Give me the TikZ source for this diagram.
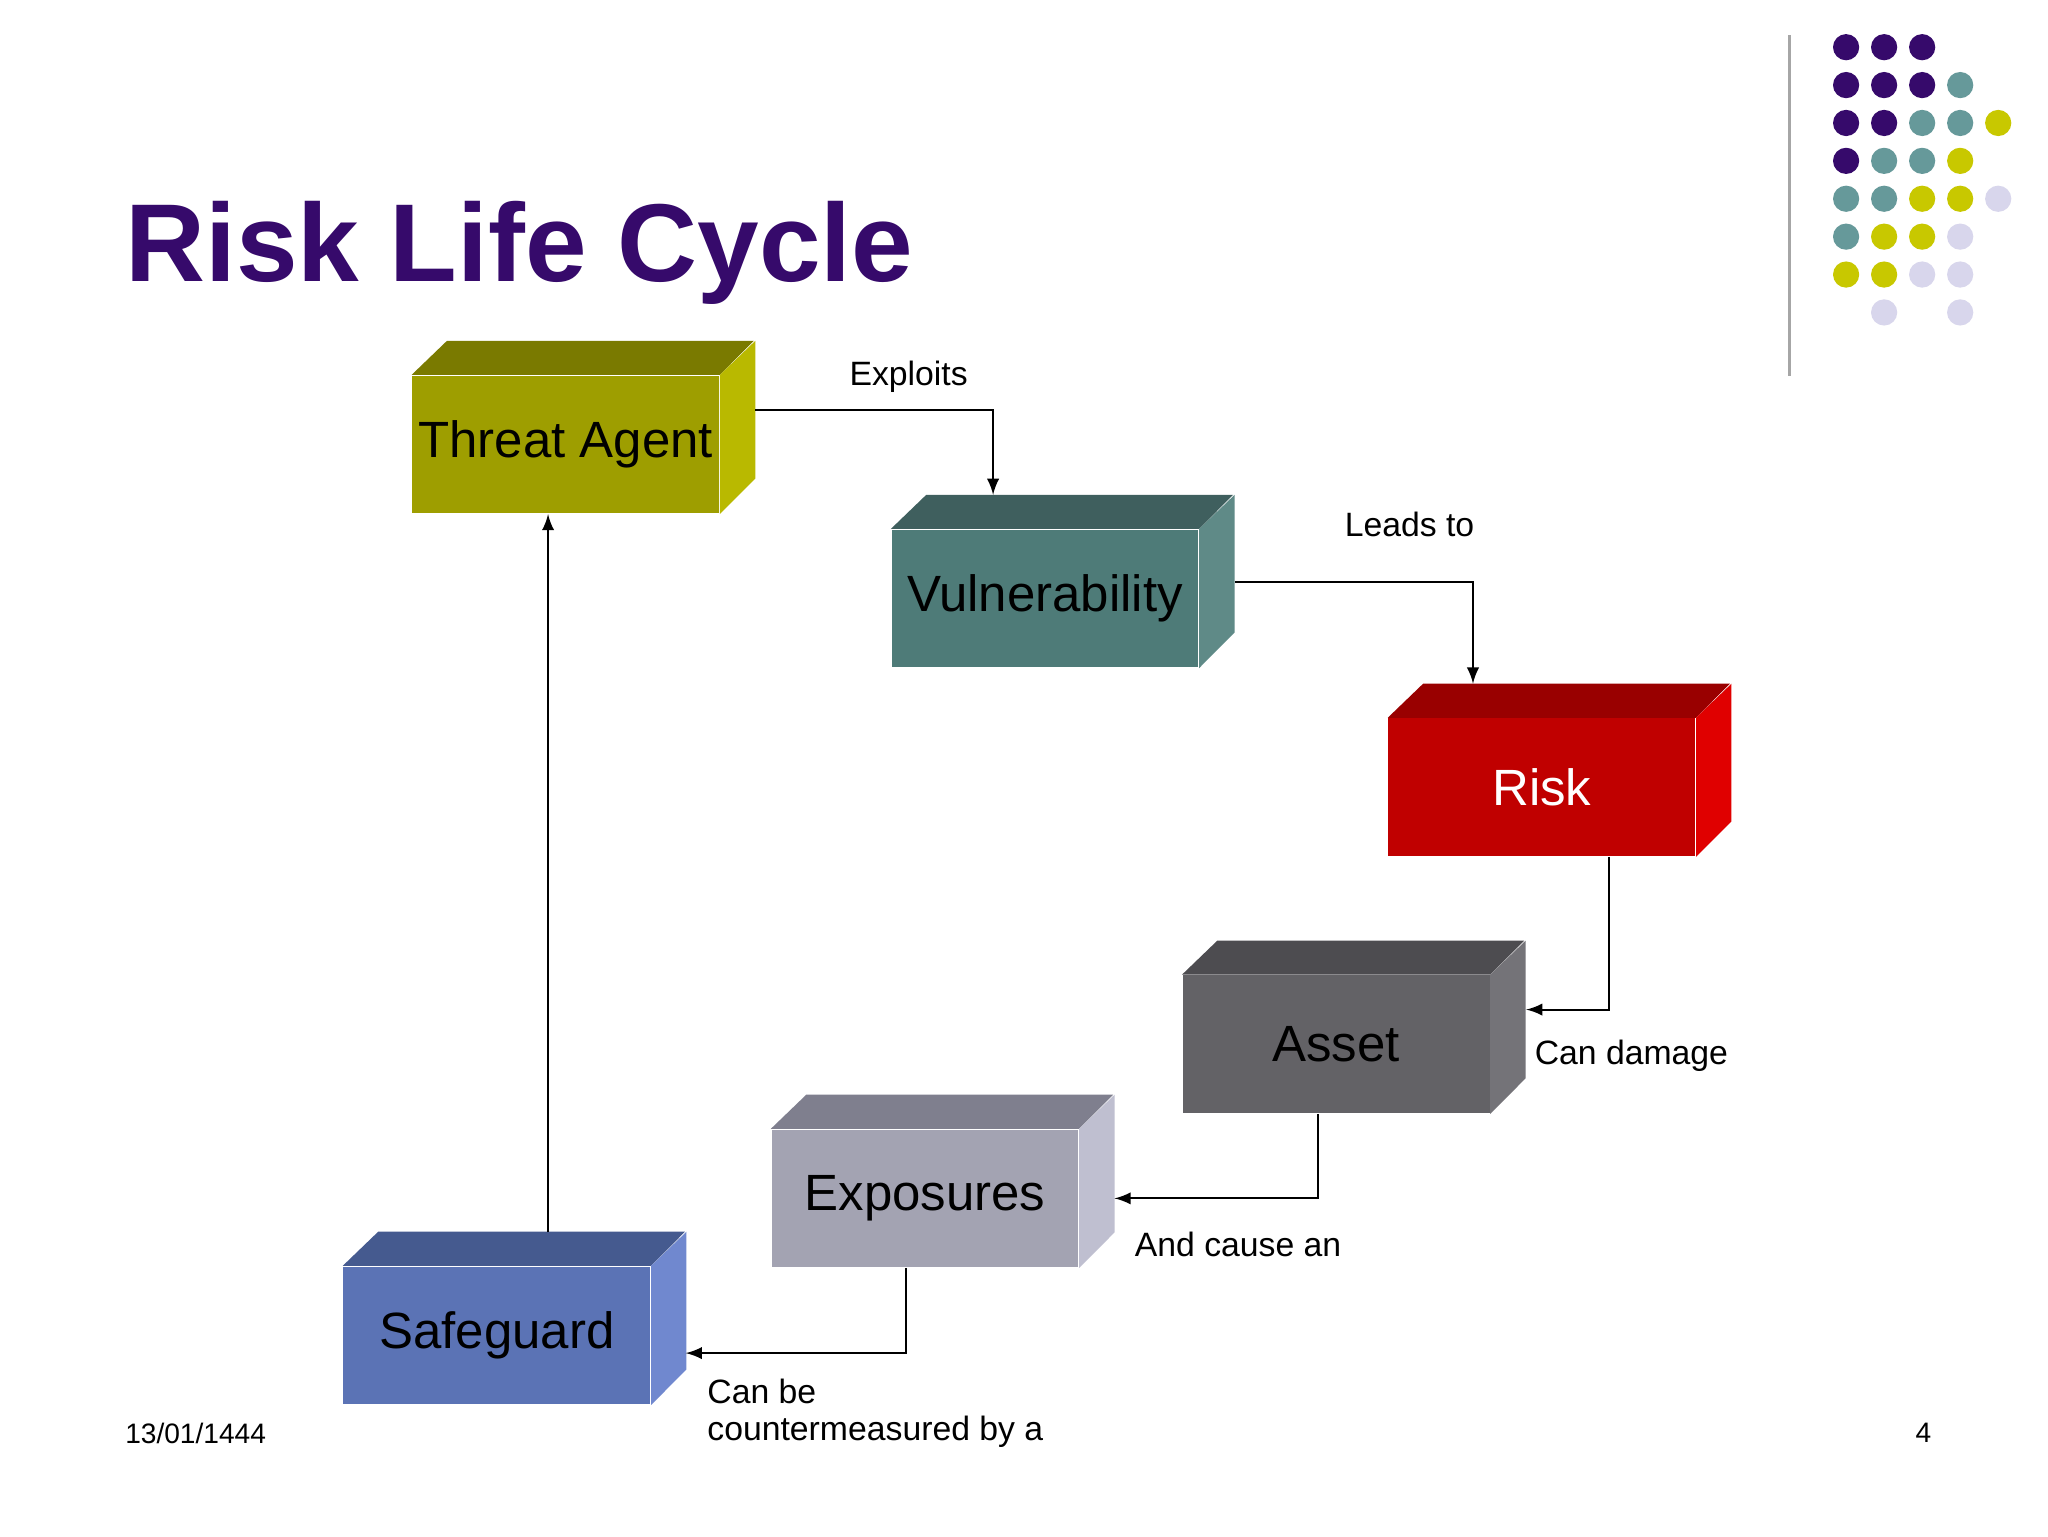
\documentclass[tikz,border=0pt]{standalone}
\usepackage{fontspec}
\setmainfont{Liberation Sans}
\usetikzlibrary{calc}
\definecolor{titlecol}{HTML}{360A6B}
\definecolor{dotP}{HTML}{360A6B}
\definecolor{dotT}{HTML}{66999A}
\definecolor{dotY}{HTML}{C8C800}
\definecolor{dotL}{HTML}{D8D6EC}
\definecolor{taF}{HTML}{9E9E00}\definecolor{taT}{HTML}{7A7A00}\definecolor{taS}{HTML}{B9B900}
\definecolor{vuF}{HTML}{4E7B78}\definecolor{vuT}{HTML}{3F5F5E}\definecolor{vuS}{HTML}{5F8A87}
\definecolor{riF}{HTML}{C00000}\definecolor{riT}{HTML}{990000}\definecolor{riS}{HTML}{E00000}
\definecolor{asF}{HTML}{636266}\definecolor{asT}{HTML}{4D4C50}\definecolor{asS}{HTML}{747378}
\definecolor{exF}{HTML}{A3A3B2}\definecolor{exT}{HTML}{7F7F8E}\definecolor{exS}{HTML}{BFBFD0}
\definecolor{sgF}{HTML}{5B73B5}\definecolor{sgT}{HTML}{455A8F}\definecolor{sgS}{HTML}{7088CF}
\tikzset{
  front/.style={draw=none, minimum width=3.068cm, minimum height=1.377cm,
    inner sep=0pt, font=\fontsize{14.5}{16}\selectfont},
  label/.style={font=\fontsize{9.6}{11.5}\selectfont, inner sep=0pt},
  link/.style={-latex, semithick},
}
% #1 name, #2 position, #3 text, #4 text colour
\newcommand{\cube}[4]{%
  \node [front, fill=#1F, text=#4] (#1) at #2 {#3};
  \fill [#1T] (#1.north west) -- ++(27,-26) -- ++(234,0) -- (#1.north east) -- cycle;
  \fill [#1S] (#1.north east) -- ++(27,-26) -- ++(0,105) -- (#1.south east) -- cycle;
}
\begin{document}
\begin{tikzpicture}[x=0.013111cm, y=-0.013111cm]
  \useasboundingbox [fill=white] (0,0) rectangle (1562,1172);

  \node [anchor=base west, text=titlecol, font=\fontsize{31.5}{36}\selectfont\bfseries, inner sep=0pt]
    (title) at (95,215) {Risk Life Cycle};

  % decoration
  \draw [gray!70, thick] (1365,27) -- (1365,287);
  \foreach \c/\r/\k in {0/0/P,1/0/P,2/0/P, 0/1/P,1/1/P,2/1/P,3/1/T,
      0/2/P,1/2/P,2/2/T,3/2/T,4/2/Y, 0/3/P,1/3/T,2/3/T,3/3/Y,
      0/4/T,1/4/T,2/4/Y,3/4/Y,4/4/L, 0/5/T,1/5/Y,2/5/Y,3/5/L,
      0/6/Y,1/6/Y,2/6/L,3/6/L, 1/7/L,3/7/L}
    \fill [dot\k] ({1408+29*\c},{36+28.9*\r}) circle (10);

  \cube{ta}{(431.5,339)}{Threat Agent}{black}
  \cube{vu}{(797,456.5)}{Vulnerability}{black}
  \cube{ri}{(1176,600.5)}{Risk}{white}
  \cube{as}{(1019,796.5)}{Asset}{black}
  \cube{ex}{(705.5,914)}{Exposures}{black}
  \cube{sg}{(379,1018.5)}{Safeguard}{black}

  \coordinate (taR) at (576,313);
  \coordinate (vuR) at (942,444);
  \coordinate (asR) at (1164,770);
  \coordinate (exR) at (850,914);
  \coordinate (sgR) at (523,1032);
  \coordinate (sgTop) at (418,940);

  \draw [link] (taR) -| ($(vu.north west)+(78,-26)$);
  \draw [link] (vuR) -| ($(ri.north west)+(65,-26)$);
  \draw [link] ($(ri.south west)+(169,0)$) |- (asR);
  \draw [link] ($(as.south west)+(104,0)$) |- (exR);
  \draw [link] ($(ex.south west)+(103,0)$) |- (sgR);
  \draw [link] (sgTop) -- (ta.south -| sgTop);

  \node [label] (l1) at (693,287) {Exploits};
  \node [label] (l2) at (1075,400) {Leads to};
  \node [label, anchor=west] (l3) at (1170,805) {Can damage};
  \node [label, anchor=west] (l4) at (865,949) {And cause an};
  \node [label, anchor=north west, align=left] (l5) at (539,1051) {Can be\\[-1pt]countermeasured by a};

  \node [label, anchor=west, font=\fontsize{8}{9}\selectfont] (date) at (95,1093) {13/01/1444};
  \node [label, font=\fontsize{8}{9}\selectfont] (page) at (1467,1093) {4};
\end{tikzpicture}
\end{document}
